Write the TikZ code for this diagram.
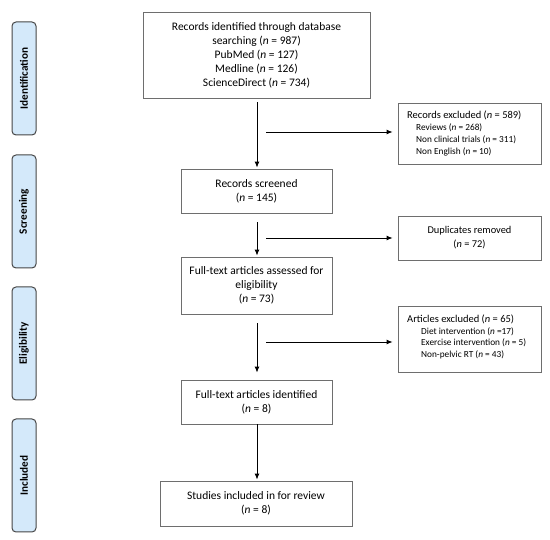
\documentclass[tikz,border=0pt]{standalone}
\usepackage{fontspec}
\setmainfont{Carlito}
\usetikzlibrary{arrows.meta}
\definecolor{sidefill}{RGB}{212,233,250}
\definecolor{sidedraw}{RGB}{70,70,70}
\definecolor{boxdraw}{RGB}{110,110,110}
\tikzset{
  sidebox/.style={draw=sidedraw, fill=sidefill, rounded corners=4pt, line width=1pt,
    minimum width=24pt, minimum height=113pt, inner sep=0pt},
  sidetext/.style={rotate=90, font=\fontsize{11.2}{13}\selectfont\bfseries, text=black},
  mainbox/.style={draw=boxdraw, line width=0.8pt, inner sep=0pt, align=center,
    font=\fontsize{11.5}{14}\selectfont},
  rightbox/.style={draw=boxdraw, line width=0.8pt, inner sep=0pt,
    minimum width=143pt},
  arr/.style={-{Latex[length=6pt,width=5pt]}, line width=0.9pt, black},
}
\newcommand{\nn}{\textit{n}}
\begin{document}
\begin{tikzpicture}[x=1pt,y=-1pt]
\useasboundingbox (0,0) rectangle (550,540);
% side labels
\node[sidebox] (sid) at (24,78.5) {};
\node[sidetext] at (sid.center) {Identification};
\node[sidebox] (sscr) at (24,211.5) {};
\node[sidetext] at (sscr.center) {Screening};
\node[sidebox] (selig) at (24,343.5) {};
\node[sidetext] at (selig.center) {Eligibility};
\node[sidebox] (sinc) at (24,475.5) {};
\node[sidetext] at (sinc.center) {Included};
% main boxes
\node[mainbox, minimum width=227pt, minimum height=86pt] (top) at (256.5,55)
  {Records identified through database\\searching (\nn{} = 987)\\PubMed (\nn{} = 127)\\Medline (\nn{} = 126)\\ScienceDirect (\nn{} = 734)};
\node[mainbox, minimum width=151pt, minimum height=44pt] (scr) at (256.5,191)
  {Records screened\\(\nn{} = 145)};
\node[mainbox, minimum width=151pt, minimum height=57pt] (full) at (256.5,285.5)
  {Full-text articles assessed for\\eligibility\\(\nn{} = 73)};
\node[mainbox, minimum width=151pt, minimum height=44pt] (ident) at (256.5,402)
  {Full-text articles identified\\(\nn{} = 8)};
\node[mainbox, minimum width=192pt, minimum height=45pt] (incl) at (256,503.5)
  {Studies included in for review\\(\nn{} = 8)};
% right boxes
\node[rightbox, minimum height=61pt] (excl) at (469.5,133.5) {};
\node[anchor=north west, inner sep=0pt, align=left, font=\fontsize{9.3}{12}\selectfont] at (407,111)
  {{\fontsize{10.5}{12}\selectfont Records excluded (\nn{} = 589)}\\
   \hspace{9pt}Reviews (\nn{} = 268)\\
   \hspace{9pt}Non clinical trials (\nn{} = 311)\\
   \hspace{9pt}Non English (\nn{} = 10)};
\node[rightbox, minimum height=44pt, align=center, font=\fontsize{10.4}{14}\selectfont] (dup) at (469.5,238)
  {Duplicates removed\\(\nn{} = 72)};
\node[rightbox, minimum height=66pt] (art) at (469.5,339) {};
\node[anchor=north west, inner sep=0pt, align=left, font=\fontsize{9.3}{11.5}\selectfont] at (407,315)
  {{\fontsize{10.5}{11.5}\selectfont Articles excluded (\nn{} = 65)}\\
   \hspace{14pt}Diet intervention (\nn{} =17)\\
   \hspace{14pt}Exercise intervention (\nn{} = 5)\\
   \hspace{14pt}Non-pelvic RT (\nn{} = 43)};
% vertical arrows
\draw[arr, shorten <=4pt, shorten >=1pt] ([xshift=0.5pt]top.south) -- ([xshift=0.5pt]scr.north);
\draw[arr, shorten <=9pt, shorten >=1pt] ([xshift=0.5pt]scr.south) -- ([xshift=0.5pt]full.north);
\draw[arr, shorten <=9pt, shorten >=7pt] ([xshift=0.5pt]full.south) -- ([xshift=0.5pt]ident.north);
\draw[arr, shorten >=1pt] ([xshift=0.5pt]ident.south) -- ([xshift=1pt]incl.north);
% horizontal arrows
\coordinate (h1) at (266,132);
\coordinate (h2) at (266,238);
\coordinate (h3) at (266,342);
\draw[arr, shorten >=5pt] (h1) -- (h1 -| excl.west);
\draw[arr, shorten >=5pt] (h2) -- (h2 -| dup.west);
\draw[arr, shorten >=5pt] (h3) -- (h3 -| art.west);
\end{tikzpicture}
\end{document}
